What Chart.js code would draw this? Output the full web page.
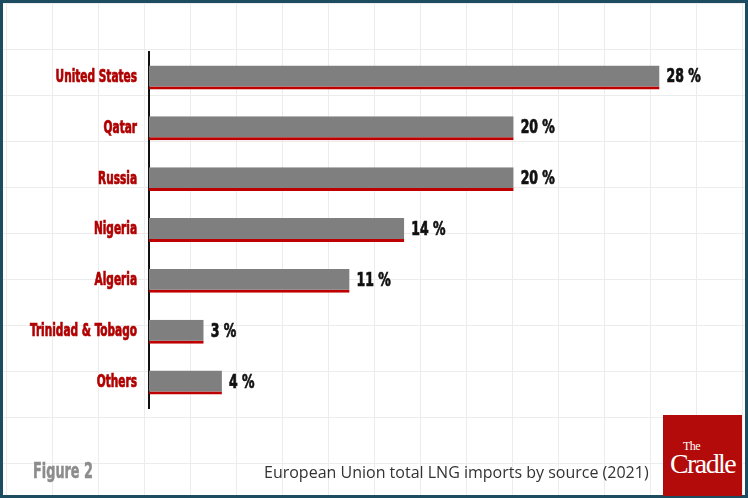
<!DOCTYPE html>
<html>
<head>
<meta charset="utf-8">
<script src="https://cdn.jsdelivr.net/npm/chart.js@4.4.1/dist/chart.umd.min.js"></script>
<style>
    html, body { margin: 0; padding: 0; }
    body { width: 748px; height: 498px; overflow: hidden; background: #fff; }
    #marco {
        position: absolute; left: 0; top: 0; width: 748px; height: 498px;
        box-sizing: border-box; border: 3px solid #1d4b60;
        background-color: #fff;
        background-image:
            linear-gradient(to right, #ececec 1px, transparent 1px),
            linear-gradient(to bottom, #ececec 1px, transparent 1px);
        background-size: 46px 46px;
        background-position: 3px 0px;
    }
    #grafico { position: absolute; left: 0; top: 0; }
    #figura {
        position: absolute; left: 33px; top: 459px;
        font: bold 21px "DejaVu Sans Condensed", sans-serif;
        color: #8c8c8c; transform: scaleX(0.68); transform-origin: left top;
        -webkit-text-stroke: 0.5px #8c8c8c;
    }
    #leyenda {
        position: absolute; left: 264px; top: 461px;
        font: 16px "Open Sans", sans-serif; color: #333;
    }
    #logo {
        position: absolute; left: 663px; top: 415px; width: 79px; height: 81px;
        background: #b30a0a; color: #fff; font-family: "Liberation Serif", serif;
    }
    #logo .the { position: absolute; left: 20px; top: 24px; font-size: 12px; letter-spacing: -0.5px; }
    #logo .cradle { position: absolute; left: 7px; top: 33px; font-size: 28px; letter-spacing: -1.6px; }
</style>
</head>
<body>
<div id="marco"></div>
<canvas id="grafico" width="748" height="498"></canvas>
<div id="figura">Figure 2</div>
<div id="leyenda">European Union total LNG imports by source (2021)</div>
<div id="logo"><span class="the">The</span><span class="cradle">Cradle</span></div>
<script>
// --- Datos: importaciones de GNL de la UE por origen (2021) ---
const paises = ['United States', 'Qatar', 'Russia', 'Nigeria', 'Algeria', 'Trinidad & Tobago', 'Others'];
const porcentajes = [28, 20, 20, 14, 11, 3, 4];
const sufijo = ' %';

const fuenteAngosta = '"DejaVu Sans Condensed", sans-serif';

// Texto comprimido en horizontal y algo más grueso (imita una fuente tipo Impact)
function textoAngosto(ctx, texto, x, y, escala, alinear) {
    ctx.save();
    ctx.translate(x, y);
    ctx.scale(escala, 1);
    ctx.textAlign = alinear;
    ctx.lineWidth = 0.7;
    ctx.strokeStyle = ctx.fillStyle;
    ctx.fillText(texto, 0, 0);
    ctx.strokeText(texto, 0, 0);
    ctx.restore();
}

// Plugin: nombres de países y valores al final de cada barra
const etiquetas = {
    id: 'etiquetas',
    afterDatasetsDraw(chart) {
        const ctx = chart.ctx;
        const ejeY = chart.scales.y;
        const meta = chart.getDatasetMeta(0);
        ctx.save();
        ctx.textBaseline = 'middle';

        ctx.fillStyle = '#b00000';
        ctx.font = 'bold 17px ' + fuenteAngosta;
        paises.forEach((p, i) => {
            textoAngosto(ctx, p, ejeY.right - 12, ejeY.getPixelForValue(i), 0.69, 'right');
        });

        ctx.fillStyle = '#111';
        ctx.font = 'bold 19px ' + fuenteAngosta;
        meta.data.forEach((barra, i) => {
            textoAngosto(ctx, porcentajes[i] + sufijo, barra.x + 7, barra.y, 0.73, 'left');
        });
        ctx.restore();
    }
};

new Chart(document.getElementById('grafico'), {
    type: 'bar',
    data: {
        labels: paises,
        datasets: [{
            data: porcentajes,
            backgroundColor: '#7f7f7f',
            borderColor: '#be0000',
            borderWidth: { top: 0, right: 0, bottom: 3, left: 0 },
            borderSkipped: false,
            barPercentage: 0.94,
            categoryPercentage: 0.5
        }]
    },
    options: {
        indexAxis: 'y',
        responsive: false,
        animation: false,
        layout: { padding: { left: 0, top: 52, right: 52, bottom: 90 } },
        plugins: {
            legend: { display: false },
            tooltip: { enabled: false }
        },
        scales: {
            x: { display: false, min: 0, max: 30 },
            y: {
                afterFit: (s) => { s.width = 149; },
                grid: { display: false },
                border: { display: true, color: '#111', width: 2 },
                ticks: { display: false }
            }
        }
    },
    plugins: [etiquetas]
});
</script>
</body>
</html>
